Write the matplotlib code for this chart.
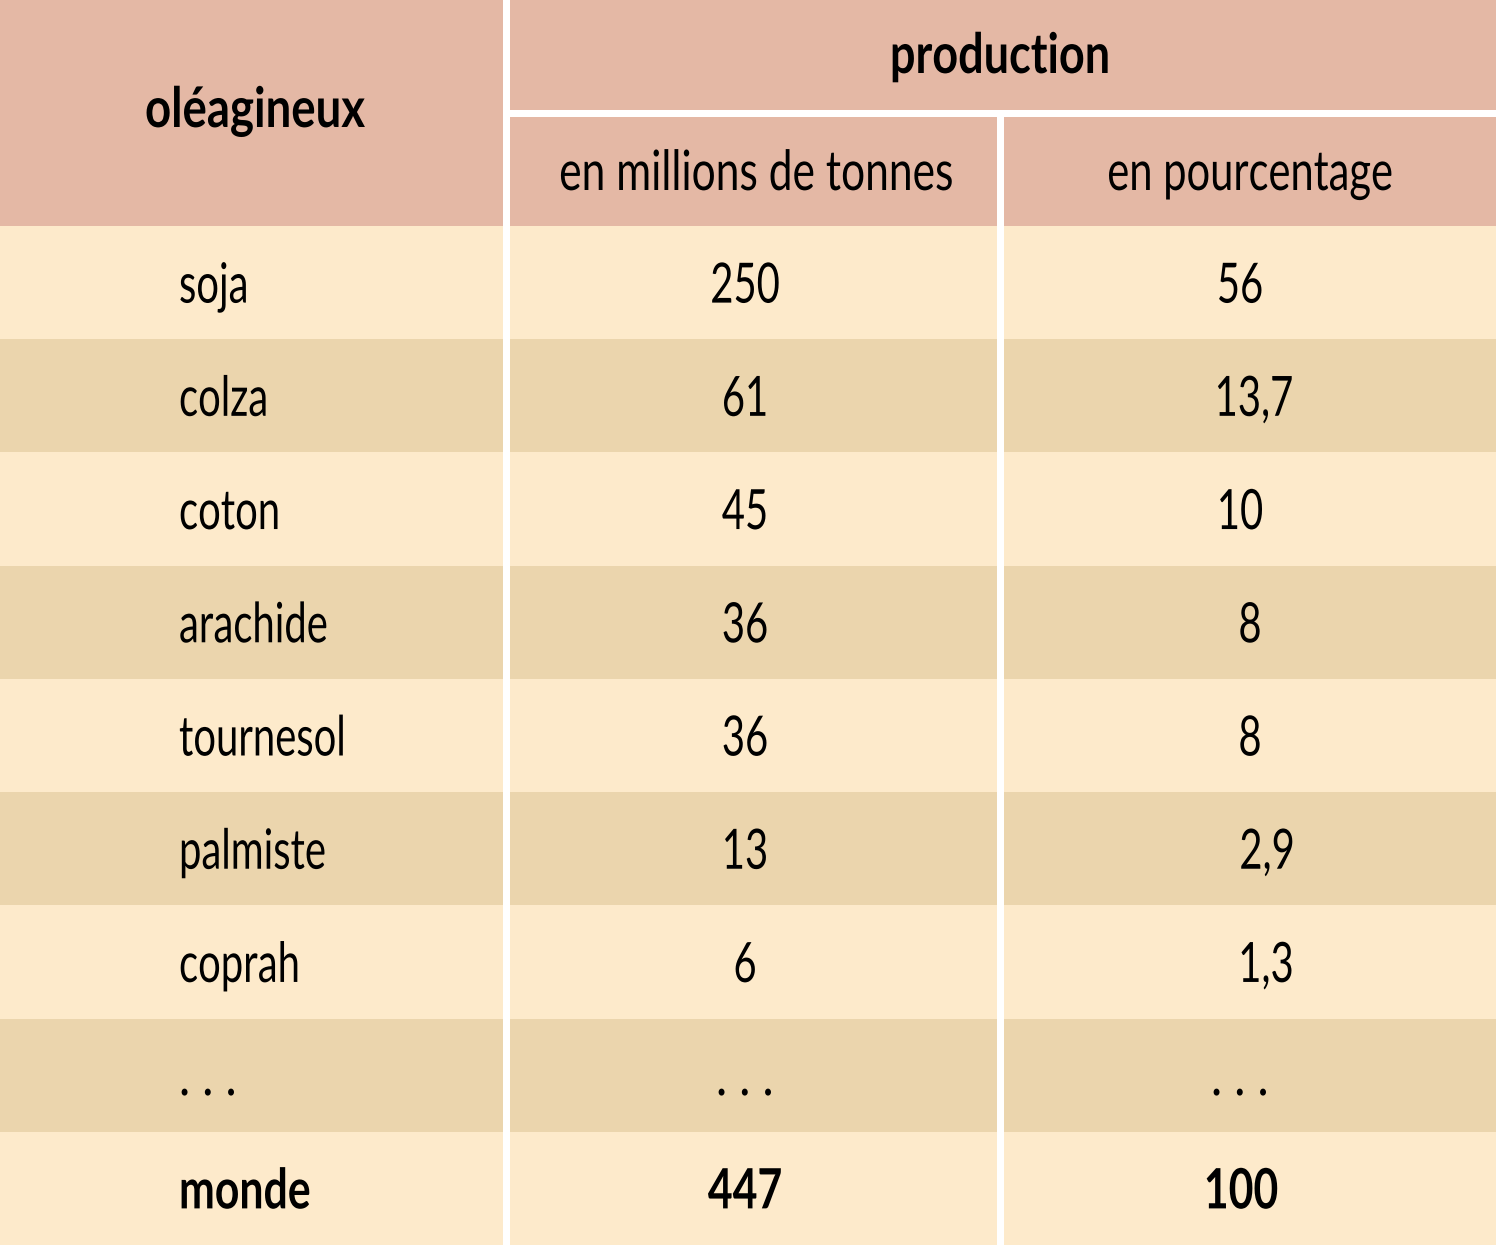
import matplotlib.pyplot as plt
from matplotlib.patches import Rectangle
from matplotlib.patheffects import AbstractPathEffect
from matplotlib.transforms import Affine2D

# table content
crops = ["soja", "colza", "coton", "arachide", "tournesol", "palmiste", "coprah", ". . .", "monde"]
tonnes = ["250", "61", "45", "36", "36", "13", "6", ". . .", "447"]
percent = ["56", "13,7", "10", "8", "8", "2,9", "1,3", ". . .", "100"]

head_col = "#E4B8A5"
light = "#FDEACB"
dark = "#EBD5AD"
font = ["Lato", "DejaVu Sans"]
SQ = 0.72   # horizontal squeeze to mimic a condensed face


class Squeeze(AbstractPathEffect):
    """Compress a text path horizontally around its anchor x (display px)."""
    def __init__(self, x0, sx=SQ):
        super().__init__()
        self.x0, self.sx = x0, sx

    def draw_path(self, renderer, gc, tpath, affine, rgbFace=None):
        aff = affine + Affine2D().translate(-self.x0, 0).scale(self.sx, 1).translate(self.x0, 0)
        renderer.draw_path(gc, tpath, aff, rgbFace)


fig = plt.figure(figsize=(15, 12.53), dpi=100)
ax = fig.add_axes([0, 0, 1, 1])
ax.set_xlim(0, 1500)
ax.set_ylim(1253, 0)
ax.axis("off")


def put(x, y, s, ha="center", size=40, weight="normal", sx=SQ):
    ax.text(x, y, s, ha=ha, va="baseline", fontsize=size, fontweight=weight,
            family=font, path_effects=[Squeeze(x, sx)])


# column edges (pixels)
cols = [(0, 503), (510, 997), (1004, 1496)]

# header cells
ax.add_patch(Rectangle((0, 0), 503, 226, color=head_col, lw=0))
ax.add_patch(Rectangle((510, 0), 986, 110, color=head_col, lw=0))
ax.add_patch(Rectangle((510, 117), 487, 109, color=head_col, lw=0))
ax.add_patch(Rectangle((1004, 117), 492, 109, color=head_col, lw=0))

put(255, 127, "oléagineux", weight="bold", sx=0.82)
put(1000, 73, "production", weight="bold", sx=0.81)
put(756, 190, "en millions de tonnes", sx=0.765)
put(1250, 190, "en pourcentage", sx=0.75)

top = 226
row_h = (1245 - 226) / len(crops)
pct_x = [1240, 1254, 1240, 1250, 1250, 1267, 1266, 1240, 1241]

for i in range(len(crops)):
    y0 = top + i * row_h
    fc = light if i % 2 == 0 else dark
    for x0, x1 in cols:
        ax.add_patch(Rectangle((x0, y0), x1 - x0, row_h, color=fc, lw=0))
    base = y0 + row_h / 2 + 20
    w = "normal"
    sx = SQ
    if crops[i] == "monde":
        w, sx = "bold", 0.77
    elif crops[i] == ". . .":
        sx = 0.85
    put(179, base, crops[i], ha="left", weight=w, sx=sx)
    put(745, base, tonnes[i], weight=w, sx=sx)
    put(pct_x[i], base, percent[i], weight=w, sx=sx)

fig.savefig("out.png", dpi=100, facecolor="white")
